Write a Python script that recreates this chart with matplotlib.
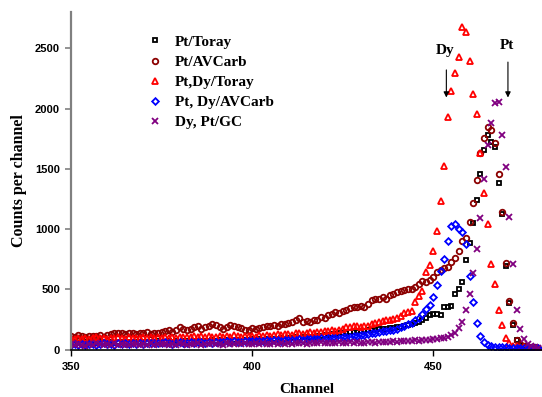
import numpy as np
import matplotlib
matplotlib.use("Agg")
from matplotlib import pyplot as plt

#------------------------------------------------------------------------
#                               data
#------------------------------------------------------------------------

channel = list(range(350, 480))

pt_toray = [
    55, 60, 52, 58, 62, 55, 60, 57, 63, 58,
    60, 65, 58, 62, 66, 60, 64, 61, 67, 63,
    65, 62, 68, 64, 70, 66, 63, 70, 67, 72,
    68, 73, 70, 66, 74, 71, 76, 72, 69, 77,
    74, 78, 72, 80, 76, 82, 78, 75, 84, 80,
    86, 82, 88, 84, 90, 87, 93, 89, 95, 92,
    98, 95, 102, 99, 106, 103, 110, 108, 115, 118,
    122, 125, 130, 128, 135, 138, 142, 145, 150, 148,
    155, 158, 162, 160, 168, 170, 175, 172, 178, 182,
    185, 190, 200, 205, 215, 220, 232, 243, 260, 290,
    300, 295, 287, 351, 356, 362, 461, 508, 563, 743,
    886, 1052, 1245, 1460, 1654, 1783, 1720, 1681, 1383, 1129,
    696, 389, 205, 78, 40, 28, 22, 18, 16, 15,
]

pt_avcarb = [
    113, 105, 120, 115, 110, 112, 118, 115, 122, 110,
    125, 130, 141, 135, 138, 130, 140, 135, 128, 140,
    141, 145, 132, 138, 141, 150, 155, 160, 145, 163,
    185, 170, 160, 175, 190, 196, 176, 185, 200, 210,
    205, 185, 170, 190, 205, 200, 185, 178, 160, 163,
    178, 170, 177, 190, 196, 195, 205, 200, 210, 215,
    224, 230, 245, 260, 232, 235, 232, 245, 251, 273,
    265, 287, 295, 315, 306, 318, 334, 343, 351, 355,
    362, 351, 380, 411, 425, 420, 434, 425, 453, 465,
    480, 486, 495, 500, 508, 522, 545, 569, 560, 580,
    605, 646, 660, 675, 690, 725, 765, 820, 903, 931,
    1060, 1217, 1411, 1631, 1759, 1846, 1827, 1714, 1460, 1143,
    720, 405, 219, 83, 45, 30, 25, 20, 20, 18,
]

ptdy_toray = [
    95, 88, 100, 92, 98, 90, 96, 102, 94, 99,
    93, 101, 96, 104, 98, 92, 103, 97, 100, 95,
    102, 98, 105, 96, 103, 100, 107, 99, 104, 101,
    108, 102, 110, 104, 112, 106, 115, 109, 118, 110,
    105, 113, 108, 116, 110, 119, 112, 107, 115, 111,
    116, 110, 120, 114, 123, 118, 126, 130, 122, 128,
    132, 125, 135, 140, 130, 138, 145, 142, 150, 148,
    155, 152, 160, 158, 163, 175, 190, 185, 195, 196,
    192, 198, 201, 215, 225, 232, 240, 251, 248, 254,
    262, 280, 301, 315, 320, 400, 450, 490, 646, 701,
    820, 985, 1237, 1524, 1935, 2150, 2299, 2426, 2674, 2633,
    2393, 2123, 1957, 1631, 1300, 1041, 715, 544, 329, 205,
    94, 55, 35, 28, 22, 20, 18, 16, 15, 14,
]

ptdy_avcarb = [
    40, 45, 38, 48, 42, 50, 44, 39, 47, 52,
    45, 50, 43, 55, 48, 52, 46, 54, 50, 57,
    49, 55, 60, 52, 58, 54, 61, 56, 50, 59,
    62, 55, 60, 64, 58, 66, 61, 57, 65, 60,
    63, 68, 62, 70, 65, 72, 67, 64, 71, 69,
    73, 70, 76, 72, 79, 75, 81, 78, 74, 82,
    80, 85, 83, 88, 84, 90, 87, 92, 89, 94,
    92, 96, 98, 95, 100, 103, 105, 108, 112, 118,
    120, 126, 133, 137, 141, 146, 152, 156, 160, 168,
    174, 188, 200, 210, 224, 243, 265, 300, 335, 375,
    439, 536, 654, 757, 906, 1024, 1041, 999, 977, 875,
    614, 397, 219, 116, 66, 40, 30, 26, 22, 20,
    20, 18, 18, 17, 16, 16, 15, 15, 14, 14,
]

dypt_gc = [
    45, 38, 50, 42, 35, 48, 40, 52, 44, 37,
    46, 41, 53, 39, 47, 43, 36, 50, 45, 40,
    48, 42, 55, 38, 46, 51, 44, 40, 49, 43,
    52, 45, 39, 50, 47, 54, 41, 48, 44, 53,
    46, 50, 42, 55, 48, 44, 52, 47, 56, 49,
    45, 53, 48, 57, 50, 46, 55, 51, 58, 49,
    54, 47, 56, 52, 60, 50, 55, 58, 53, 61,
    56, 52, 60, 57, 63, 55, 59, 62, 58, 64,
    60, 57, 65, 62, 59, 67, 63, 68, 61, 70,
    66, 72, 69, 75, 71, 78, 74, 80, 85, 82,
    88, 92, 94, 100, 108, 122, 136, 177, 232, 329,
    461, 633, 840, 1095, 1419, 1700, 1880, 2045, 2053, 1778,
    1515, 1101, 710, 329, 169, 86, 45, 30, 22, 18,
]

labels = ["Pt/Toray", "Pt/AVCarb", "Pt,Dy/Toray", "Pt, Dy/AVCarb", "Dy, Pt/GC"]

#------------------------------------------------------------------------
#                               plot
#------------------------------------------------------------------------

serif = {"family": "Liberation Serif", "weight": "bold"}

fig = plt.figure(figsize=(5.42, 3.97), dpi=100)
ax = fig.add_axes([0.131, 0.119, 0.869, 0.85])

series = [pt_toray, pt_avcarb, ptdy_toray, ptdy_avcarb, dypt_gc]
markers = ["s", "o", "^", "D", "x"]
colors = ["black", "#8B0000", "red", "blue", "#800080"]
sizes = [3.2, 4.0, 4.6, 3.4, 4.8]

for y, m, c, s, lab in zip(series, markers, colors, sizes, labels):
    if m == "x":
        ax.plot(channel, y, linestyle="none", marker=m, color=c, markersize=s,
                markeredgewidth=1.3, label=lab)
    else:
        ax.plot(channel, y, linestyle="none", marker=m, markerfacecolor="none",
                markeredgecolor=c, markersize=s, markeredgewidth=1.3, label=lab)

ax.set_xlim(350, 480)
ax.set_ylim(0, 2800)
ax.set_xticks([350, 400, 450])
ax.set_yticks([0, 500, 1000, 1500, 2000, 2500])

#axes styling
ax.spines["top"].set_visible(False)
ax.spines["right"].set_visible(False)
ax.spines["left"].set_color("#808080")
ax.spines["left"].set_linewidth(1.6)
ax.spines["bottom"].set_color("black")
ax.spines["bottom"].set_linewidth(1.2)
ax.tick_params(axis="y", direction="out", length=4, width=1.2, color="#808080", pad=4)
ax.tick_params(axis="x", direction="out", length=4, width=1.0, color="black", pad=5)
for t in ax.get_xticklabels() + ax.get_yticklabels():
    t.set_fontfamily("Liberation Sans")
    t.set_fontweight("bold")
    t.set_fontsize(8)

ax.set_xlabel("Channel", fontdict=serif, fontsize=11, labelpad=8)
ax.set_ylabel("Counts per channel", fontdict=serif, fontsize=11.5, labelpad=6)

#legend
leg = ax.legend(loc="upper left", bbox_to_anchor=(0.145, 0.955), frameon=False,
                prop={"family": "Liberation Serif", "weight": "bold", "size": 11},
                handlelength=1.0, handletextpad=0.85, labelspacing=0.42, borderpad=0)

#peak arrows
ax.annotate("", xy=(453.6, 2070), xytext=(453.6, 2345),
            arrowprops=dict(arrowstyle="-|>", color="black", lw=0.8, mutation_scale=8))
ax.annotate("", xy=(470.6, 2070), xytext=(470.6, 2410),
            arrowprops=dict(arrowstyle="-|>", color="black", lw=0.8, mutation_scale=8))
ax.text(453.2, 2480, "Dy", ha="center", va="center", fontdict=serif, fontsize=11)
ax.text(470.2, 2525, "Pt", ha="center", va="center", fontdict=serif, fontsize=11)

fig.savefig("out.png", dpi=100)
